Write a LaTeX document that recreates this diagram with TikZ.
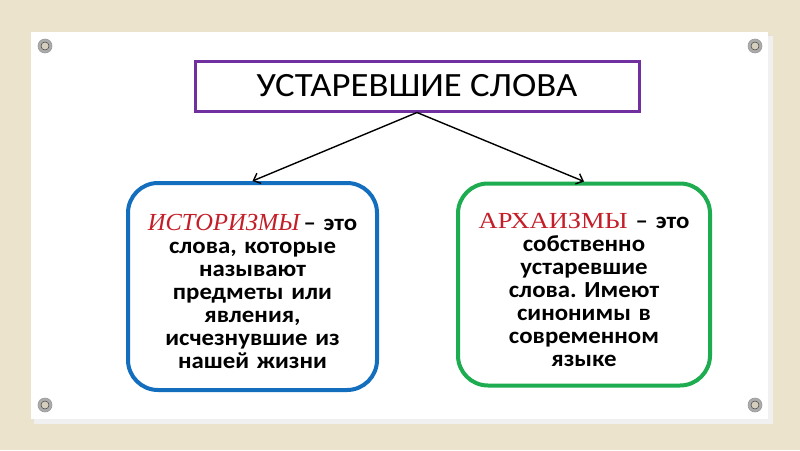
\documentclass[tikz,border=0pt]{standalone}
\usepackage{fontspec}
\setmainfont{Carlito}[FakeStretch=1.08]
\newfontfamily\redserif{Liberation Serif}[FakeStretch=1.15]
\newfontfamily\reditalic{Liberation Serif Italic}
\usetikzlibrary{arrows.meta}
\definecolor{bgcol}{RGB}{236,227,205}
\definecolor{purp}{RGB}{112,48,160}
\definecolor{bluec}{RGB}{20,110,190}
\definecolor{greenc}{RGB}{30,172,80}
\definecolor{redc}{RGB}{196,30,40}
\frenchspacing
\tikzset{
  titlebox/.style={draw=purp, line width=3pt, fill=white, minimum width=444pt, minimum height=50pt,
    font=\fontsize{34}{38}\selectfont, inner sep=0pt},
  termbox/.style={rounded corners=30pt, line width=4pt, fill=white, inner sep=0pt},
  termtext/.style={align=center, text width=240pt, inner sep=0pt,
    font=\frenchspacing\bfseries\fontsize{23}{23}\selectfont},
  conn/.style={-{Straight Barb[length=6pt,width=11pt]}, line width=1.4pt, black},
  grommet/.style={fill=gray!65, draw=gray!80, line width=0.6pt},
  grommetin/.style={fill=bgcol!80!gray, draw=gray!50!black, line width=0.5pt}
}
\begin{document}
\begin{tikzpicture}[x=1pt,y=-1pt]
\useasboundingbox (0,0) rectangle (800,450);
\fill[bgcol] (0,0) rectangle (800,450);
% paper with shadow
\fill[black!12] (33,35) rectangle (771,422);
\fill[black!6] (34,36) rectangle (773,424);
\fill[white] (31,32) rectangle (768,419);
% grommets
\foreach \gx/\gy in {45/46, 755/46, 45/405, 755/405}{
  \fill[grommet] (\gx,\gy) circle (7pt);
  \fill[grommetin] (\gx,\gy) circle (4pt);
}
\node[titlebox] (title) at (417,86) {УСТАРЕВШИЕ СЛОВА};
\node[termbox, draw=bluec, minimum width=249pt, minimum height=207pt] (hist) at (252.5,286.5) {};
\node[termtext] (histtext) at ([yshift=-5pt]hist.center)
 {\textcolor{redc}{\reditalic\mdseries\fontsize{24.5}{23}\selectfont ИСТОРИЗМЫ}\,– это\\ слова, которые\\ называют\\ предметы или\\ явления,\\ исчезнувшие из\\ нашей жизни};
\node[termbox, draw=greenc, minimum width=252pt, minimum height=202pt] (arch) at (584,284.5) {};
\node[termtext] (archtext) at ([yshift=-5.5pt]arch.center)
 {\textcolor{redc}{\redserif\mdseries\fontsize{23}{23}\selectfont АРХАИЗМЫ}\hspace{8pt}– это\\ собственно\\ устаревшие\\ слова. Имеют\\ синонимы в\\ современном\\ языке};
\draw[conn] (title.south) -- (hist.north);
\draw[conn] (title.south) -- (arch.north);
\end{tikzpicture}
\end{document}
